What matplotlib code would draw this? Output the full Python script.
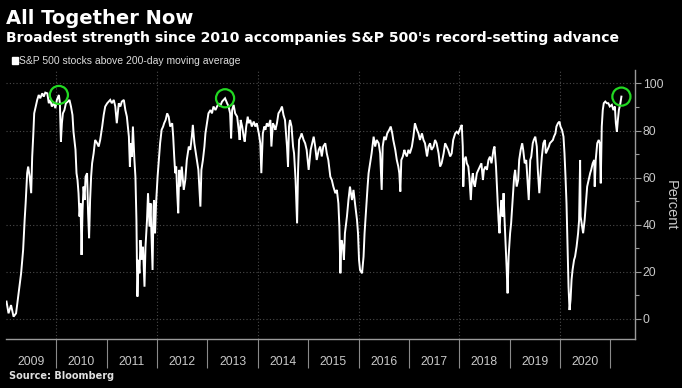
import matplotlib
matplotlib.use("Agg")
import matplotlib.pyplot as plt
from matplotlib import font_manager
from matplotlib.patches import Rectangle
from matplotlib.ticker import FixedLocator, FixedFormatter, NullFormatter

# % of S&P 500 members above their 200-day moving average (decimal years)
years = [
    2009.01, 2009.05, 2009.10, 2009.15, 2009.20, 2009.25, 2009.30, 2009.34, 2009.37, 2009.39,
    2009.42, 2009.44, 2009.47, 2009.50, 2009.52, 2009.54, 2009.56, 2009.59, 2009.62, 2009.65,
    2009.68, 2009.72, 2009.75, 2009.78, 2009.82, 2009.85, 2009.88, 2009.91, 2009.95, 2009.98,
    2010.01, 2010.05, 2010.07, 2010.09, 2010.11, 2010.13, 2010.16, 2010.19, 2010.23, 2010.26,
    2010.29, 2010.32, 2010.34, 2010.38, 2010.40, 2010.42, 2010.44, 2010.46, 2010.48, 2010.50,
    2010.52, 2010.54, 2010.56, 2010.58, 2010.61, 2010.63, 2010.65, 2010.67, 2010.69, 2010.71,
    2010.74, 2010.77, 2010.81, 2010.84, 2010.87, 2010.91, 2010.94, 2010.97,
    2011.01, 2011.04, 2011.07, 2011.10, 2011.14, 2011.17, 2011.20, 2011.24, 2011.27, 2011.30,
    2011.34, 2011.37, 2011.40, 2011.44, 2011.46, 2011.48, 2011.50, 2011.52, 2011.55, 2011.57,
    2011.59, 2011.60, 2011.61, 2011.63, 2011.65, 2011.67, 2011.69, 2011.72, 2011.75, 2011.77,
    2011.80, 2011.82, 2011.85, 2011.87, 2011.89, 2011.91, 2011.93, 2011.94, 2011.96, 2011.98,
    2012.01, 2012.04, 2012.06, 2012.09, 2012.12, 2012.14, 2012.17, 2012.20, 2012.23, 2012.26,
    2012.30, 2012.32, 2012.34, 2012.36, 2012.38, 2012.40, 2012.42, 2012.44, 2012.46, 2012.49,
    2012.53, 2012.56, 2012.59, 2012.63, 2012.66, 2012.69, 2012.71, 2012.74, 2012.77, 2012.79,
    2012.82, 2012.86, 2012.88, 2012.91, 2012.94, 2012.96, 2012.99,
    2013.02, 2013.06, 2013.09, 2013.12, 2013.16, 2013.19, 2013.22, 2013.25, 2013.29, 2013.32,
    2013.35, 2013.39, 2013.42, 2013.45, 2013.47, 2013.49, 2013.52, 2013.55, 2013.59, 2013.62,
    2013.64, 2013.66, 2013.69, 2013.72, 2013.74, 2013.77, 2013.80, 2013.82, 2013.85, 2013.88,
    2013.92, 2013.95, 2013.98,
    2014.02, 2014.05, 2014.07, 2014.10, 2014.13, 2014.15, 2014.18, 2014.21, 2014.25, 2014.27,
    2014.30, 2014.33, 2014.35, 2014.38, 2014.41, 2014.45, 2014.48, 2014.51, 2014.54, 2014.58,
    2014.60, 2014.62, 2014.64, 2014.67, 2014.70, 2014.72, 2014.75, 2014.78, 2014.80, 2014.82,
    2014.85, 2014.87, 2014.91, 2014.94, 2014.97,
    2015.01, 2015.03, 2015.05, 2015.08, 2015.11, 2015.14, 2015.17, 2015.21, 2015.24, 2015.27,
    2015.30, 2015.34, 2015.37, 2015.40, 2015.44, 2015.47, 2015.50, 2015.54, 2015.57, 2015.60,
    2015.62, 2015.64, 2015.66, 2015.69, 2015.71, 2015.73, 2015.77, 2015.80, 2015.83, 2015.87,
    2015.90, 2015.93, 2015.97, 2015.99,
    2016.01, 2016.03, 2016.07, 2016.10, 2016.12, 2016.15, 2016.18, 2016.20, 2016.23, 2016.26,
    2016.30, 2016.33, 2016.36, 2016.40, 2016.43, 2016.46, 2016.48, 2016.51, 2016.54, 2016.57,
    2016.61, 2016.64, 2016.67, 2016.69, 2016.73, 2016.76, 2016.79, 2016.81, 2016.83, 2016.85,
    2016.88, 2016.91, 2016.93, 2016.96, 2016.99,
    2017.02, 2017.06, 2017.09, 2017.12, 2017.16, 2017.19, 2017.22, 2017.26, 2017.29, 2017.32,
    2017.36, 2017.39, 2017.42, 2017.45, 2017.49, 2017.52, 2017.55, 2017.59, 2017.62, 2017.65,
    2017.69, 2017.72, 2017.75, 2017.78, 2017.82, 2017.85, 2017.88, 2017.92, 2017.95, 2017.98,
    2018.02, 2018.05, 2018.07, 2018.08, 2018.10, 2018.13, 2018.15, 2018.18, 2018.20, 2018.23,
    2018.25, 2018.27, 2018.29, 2018.31, 2018.35, 2018.38, 2018.41, 2018.44, 2018.47, 2018.49,
    2018.52, 2018.55, 2018.58, 2018.61, 2018.64, 2018.68, 2018.70, 2018.73, 2018.76, 2018.78,
    2018.80, 2018.82, 2018.84, 2018.86, 2018.88, 2018.90, 2018.92, 2018.94, 2018.96, 2018.98,
    2019.01, 2019.03, 2019.06, 2019.09, 2019.11, 2019.14, 2019.17, 2019.19, 2019.22, 2019.25,
    2019.27, 2019.30, 2019.33, 2019.35, 2019.38, 2019.41, 2019.43, 2019.46, 2019.48, 2019.51,
    2019.54, 2019.56, 2019.59, 2019.62, 2019.64, 2019.67, 2019.70, 2019.72, 2019.75, 2019.78,
    2019.80, 2019.83, 2019.86, 2019.88, 2019.91, 2019.93, 2019.96, 2019.99,
    2020.01, 2020.04, 2020.07, 2020.09, 2020.11, 2020.13, 2020.15, 2020.17, 2020.19, 2020.21,
    2020.23, 2020.25, 2020.28, 2020.30, 2020.33, 2020.36, 2020.38, 2020.40, 2020.41, 2020.44,
    2020.46, 2020.49, 2020.52, 2020.54, 2020.57, 2020.60, 2020.62, 2020.65, 2020.68, 2020.69,
    2020.71, 2020.74, 2020.77, 2020.79, 2020.81, 2020.83, 2020.85, 2020.87, 2020.90, 2020.93,
    2020.96, 2020.99,
    2021.03, 2021.06, 2021.09, 2021.11, 2021.13, 2021.15, 2021.17, 2021.20, 2021.22,
]
pct = [
    7.4, 2.4, 5.9, 1.0, 2.4, 10.9, 19.4, 29.3, 42.0, 49.1,
    61.9, 64.7, 60.4, 53.4, 68.9, 77.4, 87.3, 90.2, 93.0, 95.1,
    93.7, 95.8, 94.4, 96.1, 95.8, 91.6, 93.0, 90.2, 91.6, 89.5,
    93.0, 95.1, 91.6, 75.3, 83.1, 87.3, 88.7, 91.6, 92.3, 93.0,
    90.2, 86.6, 79.5, 71.8, 61.9, 59.0, 53.4, 43.5, 49.1, 27.2,
    46.3, 56.2, 50.5, 60.4, 61.9, 44.9, 34.3, 50.5, 60.4, 66.1,
    70.3, 76.0, 74.6, 73.2, 76.0, 81.7, 86.6, 90.2,
    91.6, 92.3, 93.0, 91.6, 93.0, 90.2, 83.1, 91.6, 90.2, 92.3,
    93.0, 88.7, 85.9, 77.4, 64.7, 74.6, 68.9, 81.7, 67.5, 60.4,
    42.0, 23.6, 9.5, 25.1, 19.4, 33.5, 25.1, 30.7, 13.7, 30.7,
    42.0, 53.4, 39.2, 49.1, 35.0, 20.8, 47.7, 50.5, 36.4, 49.1,
    60.4, 68.9, 74.6, 80.3, 81.7, 83.1, 84.5, 87.3, 85.9, 81.7,
    83.1, 77.4, 69.0, 61.9, 64.7, 53.4, 44.9, 63.3, 56.2, 64.7,
    54.8, 59.0, 67.5, 73.2, 71.8, 77.4, 82.4, 74.6, 70.3, 67.5,
    63.3, 47.7, 63.3, 67.5, 73.2, 78.8, 83.1,
    87.3, 88.7, 87.3, 90.2, 88.7, 90.2, 91.6, 90.2, 92.3, 93.0,
    93.7, 91.6, 90.2, 87.3, 76.7, 88.7, 90.9, 87.3, 85.9, 80.3,
    76.0, 84.5, 81.7, 77.4, 75.3, 81.7, 85.9, 83.1, 84.5, 81.7,
    83.8, 81.7, 83.1,
    78.8, 74.6, 61.9, 78.8, 81.7, 80.3, 83.1, 81.7, 84.5, 73.2,
    83.1, 81.7, 80.3, 83.1, 87.3, 88.7, 90.2, 86.6, 84.5, 73.2,
    64.7, 81.7, 84.5, 81.7, 73.2, 70.3, 59.0, 40.6, 63.3, 76.0,
    77.4, 78.8, 76.0, 74.6, 71.8,
    63.3, 67.5, 71.8, 74.6, 77.4, 73.2, 67.5, 71.8, 73.2, 69.0,
    73.2, 74.6, 70.3, 67.5, 60.4, 59.0, 56.2, 53.4, 54.8, 49.1,
    39.2, 19.4, 33.5, 30.7, 25.1, 36.4, 43.5, 50.5, 56.2, 50.5,
    54.8, 49.1, 42.0, 36.4,
    25.1, 20.8, 19.4, 26.5, 36.4, 46.3, 56.2, 61.9, 66.1, 70.3,
    77.4, 73.2, 76.0, 74.6, 70.3, 54.8, 73.2, 77.4, 76.0, 78.8,
    80.3, 81.7, 78.8, 76.0, 71.8, 67.5, 64.7, 61.9, 54.1, 67.5,
    69.0, 71.8, 70.3, 69.0, 71.8,
    70.3, 73.2, 77.4, 83.1, 80.3, 78.8, 76.0, 78.8, 76.0, 74.6,
    69.0, 73.2, 74.6, 71.8, 73.2, 76.0, 74.6, 70.3, 64.7, 66.1,
    70.3, 74.6, 73.2, 71.8, 69.0, 70.3, 76.0, 78.8, 79.5, 78.8,
    81.0, 82.4, 73.2, 56.2, 67.5, 68.9, 66.1, 64.7, 60.4, 50.5,
    59.0, 61.9, 57.6, 56.2, 61.9, 63.3, 64.7, 66.1, 59.0, 63.3,
    64.7, 63.3, 67.5, 68.9, 66.1, 71.8, 73.2, 64.7, 50.5, 42.0,
    36.4, 46.3, 50.5, 43.5, 53.4, 42.0, 32.1, 22.2, 10.9, 26.5,
    36.4, 40.6, 50.5, 60.4, 63.3, 56.2, 59.0, 67.5, 71.8, 74.6,
    71.8, 66.1, 67.5, 60.4, 50.5, 67.5, 68.9, 74.6, 76.0, 77.4,
    73.2, 63.3, 53.4, 63.3, 68.9, 74.6, 76.0, 70.3, 71.8, 73.2,
    74.6, 75.3, 76.0, 77.4, 78.8, 81.7, 83.1, 83.8,
    81.7, 80.3, 77.4, 70.3, 60.4, 49.1, 32.1, 13.7, 3.8, 8.1,
    16.6, 20.8, 25.1, 26.5, 30.7, 36.4, 42.0, 67.5, 43.5, 39.2,
    36.4, 42.0, 50.5, 56.2, 59.0, 61.9, 63.3, 66.1, 67.5, 56.2,
    67.5, 74.6, 76.0, 74.6, 57.6, 81.7, 88.7, 91.6, 92.3, 91.6,
    91.6, 90.2,
    90.9, 88.7, 90.2, 83.1, 79.5, 84.5, 88.7, 91.6, 94.4,
]

# highlighted peaks (green rings)
peak_years = [2010.05, 2013.35, 2021.22]
peak_pct = [95.1, 93.7, 94.4]

year_starts = list(range(2010, 2022))
year_mids = [y + 0.5 for y in range(2009, 2021)]
year_labels = ["2009", "2010", "2011", "2012", "2013", "2014",
               "2015", "2016", "2017", "2018", "2019", "2020"]
grid_years = [2010, 2012, 2014, 2016, 2018, 2020]
pct_ticks = [0, 20, 40, 60, 80, 100]
pct_minor = [10, 30, 50, 70, 90]

installed = {f.name for f in font_manager.fontManager.ttflist}
narrow = "Liberation Sans Narrow" if "Liberation Sans Narrow" in installed else "Liberation Sans"
TICK_FONT = "Liberation Sans"
GREY = "#c8c8c8"
AXIS_GREY = "#9a9a9a"

fig = plt.figure(figsize=(6.82, 3.88), dpi=100, facecolor="black")
ax = fig.add_axes([6 / 682, 49 / 388, 629 / 682, 269 / 388], facecolor="black")

ax.plot(years, pct, color="white", lw=1.4, solid_joinstyle="miter", zorder=3)
ax.scatter(peak_years, peak_pct, s=170, facecolors="none",
           edgecolors="#22d822", linewidths=1.6, zorder=4)

ax.set_xlim(2009.0, 2021.49)
ax.set_ylim(-8.5, 105.7)

# grid
for g in pct_ticks:
    ax.axhline(g, color="#4a4a4a", lw=0.8, ls=(0, (1, 2)), zorder=1)
for g in grid_years:
    ax.axvline(g, color="#4a4a4a", lw=0.8, ls=(0, (1, 2)), zorder=1)

for side in ("left", "top"):
    ax.spines[side].set_visible(False)
for side in ("bottom", "right"):
    ax.spines[side].set_color(AXIS_GREY)
    ax.spines[side].set_linewidth(1.0)

# x axis: year dividers as long ticks, labels centred in each year
ax.xaxis.set_major_locator(FixedLocator(year_starts))
ax.xaxis.set_major_formatter(NullFormatter())
ax.xaxis.set_minor_locator(FixedLocator(year_mids))
ax.xaxis.set_minor_formatter(FixedFormatter(year_labels))
ax.tick_params(axis="x", which="major", direction="out", length=21,
               width=0.8, color="#8a8a8a")
ax.tick_params(axis="x", which="minor", length=0, pad=12.5,
               labelsize=8.7, labelcolor=GREY)

# y axis on the right
ax.yaxis.tick_right()
ax.yaxis.set_major_locator(FixedLocator(pct_ticks))
ax.yaxis.set_minor_locator(FixedLocator(pct_minor))
ax.tick_params(axis="y", which="major", direction="out", length=4,
               width=0.8, color=AXIS_GREY, pad=1.5, labelsize=8.7, labelcolor=GREY)
ax.tick_params(axis="y", which="minor", direction="out", length=3,
               width=0.8, color=AXIS_GREY)

for lab in ax.get_xticklabels(minor=True) + ax.get_yticklabels():
    lab.set_family(TICK_FONT)

fig.text(671 / 682, 1 - 205 / 388, "Percent", rotation=270, color=GREY,
         fontsize=10.5, family=TICK_FONT, va="center", ha="center")

# header
fig.text(6 / 682, 1 - 24 / 388, "All Together Now", color="white",
         fontsize=14, fontweight="bold", va="baseline", ha="left")
fig.text(6 / 682, 1 - 41.7 / 388,
         "Broadest strength since 2010 accompanies S&P 500's record-setting advance",
         color="white", fontsize=10.1, fontweight="bold", va="baseline", ha="left")

fig.patches.append(Rectangle((12 / 682, 1 - 63.5 / 388), 5.5 / 682, 6.5 / 388,
                             transform=fig.transFigure, color="white"))
fig.text(19 / 682, 1 - 64 / 388, "S&P 500 stocks above 200-day moving average",
         color="#dddddd", fontsize=7.5, family=narrow, va="baseline", ha="left")

fig.text(9 / 682, 1 - 376 / 388, "Source: Bloomberg", color="#e0e0e0",
         fontsize=7, fontweight="bold", va="center", ha="left")

fig.savefig("out.png", dpi=100, facecolor="black")
